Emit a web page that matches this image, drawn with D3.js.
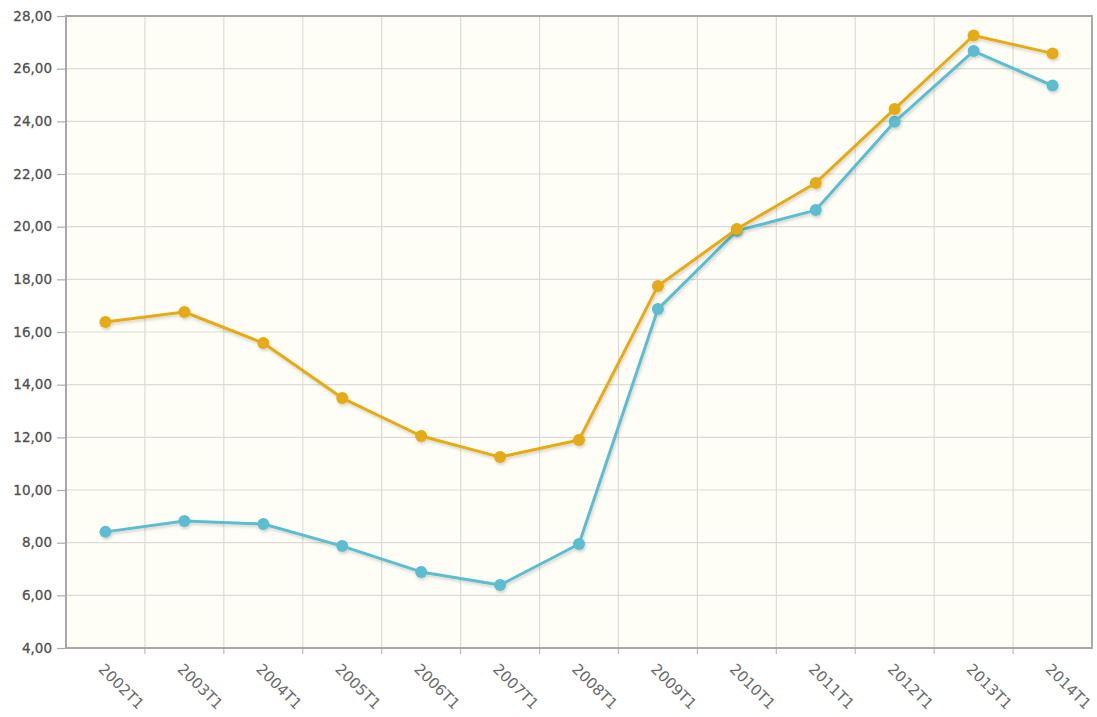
<!DOCTYPE html>
<html><head><meta charset="utf-8">
<script src="https://cdn.jsdelivr.net/npm/d3@7"></script>
<style>body{margin:0;background:#fff;} svg{display:block;}</style>
</head><body>
<svg id="c" width="1097" height="717"></svg>
<script>
const categories = ["2002T1","2003T1","2004T1","2005T1","2006T1","2007T1","2008T1","2009T1","2010T1","2011T1","2012T1","2013T1","2014T1"];
const seriesOrange = [16.38,16.76,15.58,13.49,12.05,11.25,11.9,17.75,19.91,21.66,24.47,27.26,26.58];
const seriesBlue = [8.41,8.82,8.71,7.87,6.89,6.39,7.95,16.87,19.84,20.63,23.98,26.67,25.36];
const yTicks = [4,6,8,10,12,14,16,18,20,22,24,26,28];

const svg = d3.select("#c");
const L = 66, R = 1092, T = 16, B = 648;
const x = d3.scaleBand().domain(categories).range([L, R]);
const y = d3.scaleLinear().domain([4, 28]).range([B, T]);
const fmt = v => d3.format(".2f")(v).replace(".", ",");

const defs = svg.append("defs");
const f = defs.append("filter").attr("id","sh").attr("x","-10%").attr("y","-10%").attr("width","120%").attr("height","130%");
f.append("feDropShadow").attr("dx",1).attr("dy",2).attr("stdDeviation",1.5).attr("flood-color","#000").attr("flood-opacity",0.18);

svg.append("rect").attr("x",L).attr("y",T).attr("width",R-L).attr("height",B-T).attr("fill","#fffef6");

// grid
svg.append("g").selectAll("line").data(yTicks.slice(1,-1)).join("line")
  .attr("x1",L).attr("x2",R).attr("y1",d=>y(d)).attr("y2",d=>y(d))
  .attr("stroke","#dcdcd6").attr("stroke-width",1.2);
svg.append("g").selectAll("line").data(categories.slice(1)).join("line")
  .attr("x1",d=>x(d)).attr("x2",d=>x(d)).attr("y1",T).attr("y2",B)
  .attr("stroke","#dcdcd6").attr("stroke-width",1.2);

// y axis
const yAxis = d3.axisLeft(y).tickValues(yTicks).tickFormat(fmt).tickSize(9).tickPadding(5);
const gy = svg.append("g").attr("transform",`translate(${L},0)`).call(yAxis);
gy.select(".domain").remove();
gy.selectAll(".tick line").attr("stroke","#aaa").attr("stroke-width",1.2);
gy.selectAll(".tick text").attr("fill","#505050").style("font-family","'DejaVu Sans', sans-serif").style("font-size","13.5px")
  .attr("stroke","#505050").attr("stroke-width",0.3);

// x axis
const xAxis = d3.axisBottom(x).tickSize(0).tickPadding(0);
const gx = svg.append("g").attr("transform",`translate(0,${B})`).call(xAxis);
gx.select(".domain").remove();
gx.selectAll(".tick text")
  .attr("text-anchor","start").attr("fill","#6a6a6a").attr("y",0).attr("dy",0)
  .attr("transform","translate(-8,22) rotate(45)")
  .style("font-family","'DejaVu Sans', sans-serif").style("font-size","15px");
svg.append("g").selectAll("line").data(categories.slice(1)).join("line")
  .attr("x1",d=>x(d)).attr("x2",d=>x(d)).attr("y1",B).attr("y2",B+6)
  .attr("stroke","#bbb").attr("stroke-width",1.2);

// border
svg.append("rect").attr("x",L).attr("y",T).attr("width",R-L).attr("height",B-T)
  .attr("fill","none").attr("stroke","#a8a8a8").attr("stroke-width",2);

const cx = d => x(d) + x.bandwidth()/2;
function drawSeries(vals, color){
  const g = svg.append("g").attr("filter","url(#sh)");
  const data = categories.map((c,i)=>({c, v: vals[i]}));
  g.append("path").datum(data)
    .attr("d", d3.line().x(d=>cx(d.c)).y(d=>y(d.v)))
    .attr("fill","none").attr("stroke",color).attr("stroke-width",3).attr("stroke-linejoin","round");
  g.selectAll("circle").data(data).join("circle")
    .attr("cx",d=>cx(d.c)).attr("cy",d=>y(d.v)).attr("r",6).attr("fill",color);
}
drawSeries(seriesBlue, "#5cbcd0");
drawSeries(seriesOrange, "#e5ab13");
</script>
</body></html>
